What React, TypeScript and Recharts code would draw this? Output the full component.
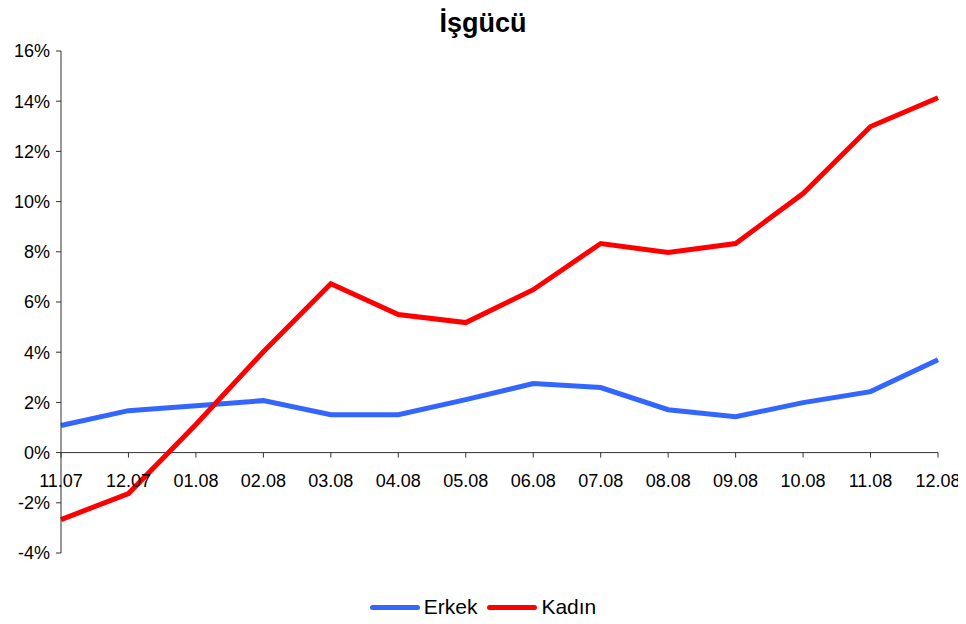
import React from 'react';
import { LineChart, Line, XAxis, YAxis, ReferenceLine, Legend } from 'recharts';

const months = ['11.07', '12.07', '01.08', '02.08', '03.08', '04.08', '05.08', '06.08', '07.08', '08.08', '09.08', '10.08', '11.08', '12.08'];
const erkek = [1.08, 1.67, 1.87, 2.07, 1.51, 1.51, 2.11, 2.75, 2.59, 1.71, 1.43, 1.99, 2.43, 3.7];
const kadin = [-2.67, -1.63, 1.12, 4.02, 6.73, 5.5, 5.18, 6.49, 8.33, 7.97, 8.33, 10.32, 12.99, 14.14];
const yTicks = [-4, -2, 0, 2, 4, 6, 8, 10, 12, 14, 16];

const data = months.map((m, i) => ({ month: m, Erkek: erkek[i], Kadin: kadin[i] }));

const W = 966;
const H = 624;
const TOP = 51;
const BOTTOM = 553;
const Y_MIN = -4;
const Y_MAX = 16;
const zeroY = TOP + ((Y_MAX - 0) / (Y_MAX - Y_MIN)) * (BOTTOM - TOP);

const font = 'Arial, "Liberation Sans", sans-serif';

const MonthTick = (props: any) => {
  const { x, payload } = props;
  return (
    <g>
      <line x1={x} x2={x} y1={zeroY} y2={zeroY + 5} stroke="#333" />
      <text x={x} y={zeroY + 34} textAnchor="middle" fontSize={18} fontFamily={font} fill="#000">
        {payload.value}
      </text>
    </g>
  );
};

const LegendContent = () => (
  <div style={{ display: 'flex', justifyContent: 'center', alignItems: 'center', fontFamily: font, fontSize: 21, color: '#000', height: 24 }}>
    <span style={{ display: 'inline-block', width: 50, height: 5, borderRadius: 3, background: '#3366FF', marginRight: 4 }} />
    <span style={{ marginRight: 10 }}>Erkek</span>
    <span style={{ display: 'inline-block', width: 50, height: 5, borderRadius: 3, background: '#FF0000', marginRight: 4 }} />
    <span>Kadın</span>
  </div>
);

export default function App() {
  return (
    <div style={{ margin: -8, width: W, height: H, position: 'relative', background: '#fff' }}>
      <LineChart width={W} height={H} data={data} margin={{ top: TOP, right: 28, left: 0, bottom: H - BOTTOM - 25 }}>
        <XAxis
          dataKey="month"
          axisLine={false}
          tickLine={false}
          tick={<MonthTick />}
          interval={0}
          height={1}
        />
        <YAxis
          domain={[Y_MIN, Y_MAX]}
          ticks={yTicks}
          tickFormatter={(v: number) => `${v}%`}
          width={61}
          stroke="#333"
          tickSize={5}
          tickMargin={6}
          tick={{ fill: '#000', fontSize: 18, fontFamily: font }}
          interval={0}
        />
        <ReferenceLine y={0} stroke="#333" />
        <Legend
          content={<LegendContent />}
          wrapperStyle={{ position: 'absolute', top: 595, left: 0, width: W, height: 24 }}
        />
        <Line type="linear" dataKey="Erkek" stroke="#3366FF" strokeWidth={5} dot={false} isAnimationActive={false} />
        <Line type="linear" dataKey="Kadin" name="Kadın" stroke="#FF0000" strokeWidth={5} dot={false} isAnimationActive={false} />
      </LineChart>
      <div style={{ position: 'absolute', top: 6, left: 0, width: W, textAlign: 'center', fontFamily: font, fontWeight: 'bold', fontSize: 27, lineHeight: '34px', zIndex: 2 }}>
        İşgücü
      </div>
    </div>
  );
}
